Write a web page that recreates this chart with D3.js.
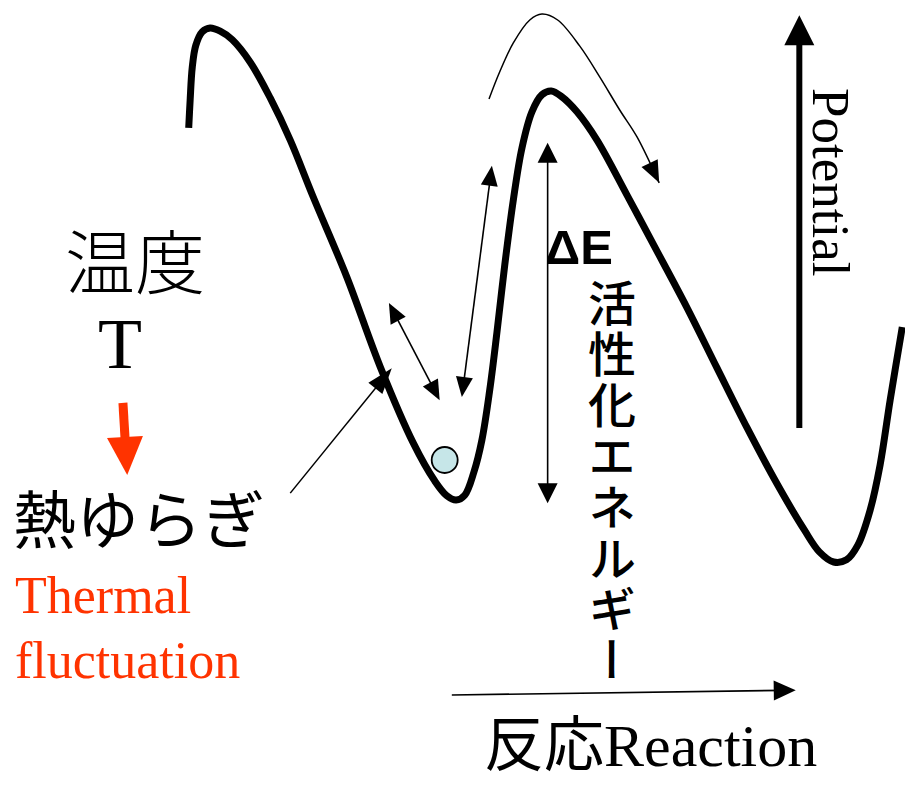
<!DOCTYPE html>
<html>
<head>
<meta charset="utf-8">
<script src="https://cdn.jsdelivr.net/npm/d3@7/dist/d3.min.js"></script>
<style>
  html, body { margin: 0; padding: 0; background: #fff; }
  svg { display: block; }
</style>
</head>
<body>
<script>
// ---- Data (reaction coordinate 0-100, potential 0-100) ----
// Main potential-energy curve
const curveR = [0.1, 0.3, 0.6, 1.1, 2.0, 3.1, 4.5, 6.2, 8.7, 11.5, 14.3, 17.5, 22.2, 26.9, 31.5, 34.5, 36.2, 37.5, 38.7, 40.0, 41.1, 42.2, 43.2, 44.3, 45.5, 46.7, 48.1, 49.5, 50.8, 52.3, 54.4, 57.2, 61.4, 65.2, 69.8, 74.0, 78.2, 82.4, 86.2, 88.3, 90.3, 92.1, 93.7, 95.4, 96.8, 98.2, 99.9];
const curveU = [81.3, 86.5, 92.7, 96.8, 99.3, 100, 99.4, 97.8, 93.6, 86.9, 79.0, 68.4, 53.4, 36.5, 22.3, 15.2, 12.4, 11.6, 12.5, 16.9, 22.8, 32.2, 42.9, 55.6, 67.8, 77.5, 84.3, 87.5, 88.2, 87.1, 84.3, 79.0, 68.7, 59.2, 47.6, 36.3, 25.1, 14.6, 6.0, 1.9, 0.0, 0.4, 3.2, 9.7, 18.2, 30.3, 44.0];
// Thin "crossing the barrier" arc
const arcR = [42.1, 43.6, 45.5, 47.8, 49.5, 51.7, 54.8, 57.6, 60.4, 62.8, 65.9];
const arcU = [86.7, 91.8, 97.2, 101.5, 102.6, 101.5, 96.6, 90.8, 84.6, 79.6, 71.0];
// Double-headed arrows: [r1, U1, r2, U2]
const deltaE = [50.3, 78.5, 50.3, 11.0];
const fluctA = [42.5, 74.2, 38.3, 30.9];
const fluctB = [28.1, 48.5, 35.2, 30.3];
// Pointer from 熱ゆらぎ to the curve
const pointer = [14.3, 12.9, 28.5, 36.3];
// Particle in the well
const ball = [35.9, 19.1];
// Axes
const potentialAxis = [85.5, 25.1, 85.5, 102.4];
const reactionAxis = [36.9, -24.9, 85.0, -24.0];
// Red arrow (temperature -> fluctuation)
const redArrow = [-9.1, 29.8, -8.5, 16.3];
// Labels
const labelTemp = "温度";
const labelT = "T";
const labelFluct = "熱ゆらぎ";
const labelThermal = ["Thermal", "fluctuation"];
const labelDE = "ΔE";
const labelEa = "活性化エネルギー";
const labelPotential = "Potential";
const labelReactionJa = "反応";
const labelReactionEn = "Reaction";

// ---- Drawing ----
const W = 905, H = 785;
const svg = d3.select("body").append("svg").attr("width", W).attr("height", H);
const x = d3.scaleLinear().domain([0, 100]).range([188, 903]);
const y = d3.scaleLinear().domain([0, 100]).range([562, 28]);

const line = d3.line().x(d => x(d[0])).y(d => y(d[1])).curve(d3.curveCatmullRom.alpha(0.5));

function head(g, tipX, tipY, fromX, fromY, len, wid, color) {
  const dx = tipX - fromX, dy = tipY - fromY;
  const L = Math.hypot(dx, dy);
  const ux = dx / L, uy = dy / L;
  const bx = tipX - ux * len, by = tipY - uy * len;
  const px = -uy * wid / 2, py = ux * wid / 2;
  g.append("path")
    .attr("d", `M${tipX},${tipY}L${bx + px},${by + py}L${bx - px},${by - py}Z`)
    .attr("fill", color);
  return [tipX - ux * len * 0.6, tipY - uy * len * 0.6];
}

function arrow(a, opts) {
  const { both = false, len = 20, wid = 17, sw = 1.6, color = "#000" } = opts || {};
  const x1 = x(a[0]), y1 = y(a[1]), x2 = x(a[2]), y2 = y(a[3]);
  const g = svg.append("g");
  const e2 = head(g, x2, y2, x1, y1, len, wid, color);
  let s = [x1, y1];
  if (both) s = head(g, x1, y1, x2, y2, len, wid, color);
  g.insert("line", ":first-child")
    .attr("x1", s[0]).attr("y1", s[1]).attr("x2", e2[0]).attr("y2", e2[1])
    .attr("stroke", color).attr("stroke-width", sw);
}

// Main curve
svg.append("path")
  .datum(curveR.map((r, i) => [r, curveU[i]]))
  .attr("d", line)
  .attr("fill", "none").attr("stroke", "#000").attr("stroke-width", 7)
  .attr("stroke-linejoin", "round");

// Thin arc with arrowhead
const arcPts = arcR.map((r, i) => [r, arcU[i]]);
const ag = svg.append("g");
const n = arcPts.length;
ag.append("path")
  .datum(arcPts)
  .attr("d", line)
  .attr("fill", "none").attr("stroke", "#000").attr("stroke-width", 1.5);
const tip = [x(arcPts[n - 1][0]), y(arcPts[n - 1][1])];
const prev = [x(arcPts[n - 2][0]), y(arcPts[n - 2][1])];
head(ag, tip[0], tip[1], prev[0], prev[1], 22, 18, "#000");

// Double arrows
arrow(deltaE, { both: true, len: 20, wid: 20 });
arrow(fluctA, { both: true, len: 20, wid: 17 });
arrow(fluctB, { both: true, len: 20, wid: 17 });
// Pointer
arrow(pointer, { len: 26, wid: 18, sw: 1.5 });

// Ball
svg.append("circle")
  .attr("cx", x(ball[0])).attr("cy", y(ball[1])).attr("r", 13)
  .attr("fill", "#c6e6e8").attr("stroke", "#000").attr("stroke-width", 1.8);

// Potential axis
arrow(potentialAxis, { len: 30, wid: 30, sw: 6 });
// Reaction axis
arrow(reactionAxis, { len: 22, wid: 20, sw: 1.6 });
// Red arrow
arrow(redArrow, { len: 38, wid: 36, sw: 9, color: "#ff3300" });

// ---- Text ----
const cjk = "'Noto Sans CJK JP', sans-serif";
const serif = "'Liberation Serif', 'Times New Roman', serif";

svg.append("text").text(labelTemp)
  .attr("x", 135).attr("y", 289).attr("text-anchor", "middle")
  .attr("font-family", cjk).attr("font-size", 70).attr("font-weight", 300).attr("fill", "#000");
svg.append("text").text(labelT)
  .attr("x", 120).attr("y", 368).attr("text-anchor", "middle")
  .attr("font-family", serif).attr("font-size", 72).attr("fill", "#000");
svg.append("text").text(labelFluct)
  .attr("x", 13).attr("y", 543)
  .attr("font-family", cjk).attr("font-size", 63).attr("fill", "#000");
labelThermal.forEach((t, i) => {
  svg.append("text").text(t)
    .attr("x", 15).attr("y", 613 + i * 65)
    .attr("font-family", serif).attr("font-size", 52).attr("fill", "#ff3300");
});
svg.append("text").text(labelDE)
  .attr("x", 545).attr("y", 264)
  .attr("font-family", "'Liberation Sans', Arial, sans-serif").attr("font-weight", "bold")
  .attr("font-size", 49).attr("fill", "#000");
svg.append("text").text(labelEa)
  .attr("x", 612).attr("y", 279)
  .attr("font-family", cjk).attr("font-size", 48).attr("font-weight", 500)
  .attr("letter-spacing", 3).attr("fill", "#000")
  .style("writing-mode", "vertical-rl").style("text-orientation", "upright");
svg.append("text").text(labelPotential)
  .attr("transform", "translate(813,88) rotate(90)")
  .attr("font-family", serif).attr("font-size", 53).attr("fill", "#000");
const rt = svg.append("text").attr("x", 484).attr("y", 766)
  .attr("font-size", 60).attr("fill", "#000");
rt.append("tspan").text(labelReactionJa).attr("font-family", cjk);
rt.append("tspan").text(labelReactionEn).attr("font-family", serif);
</script>
</body>
</html>
